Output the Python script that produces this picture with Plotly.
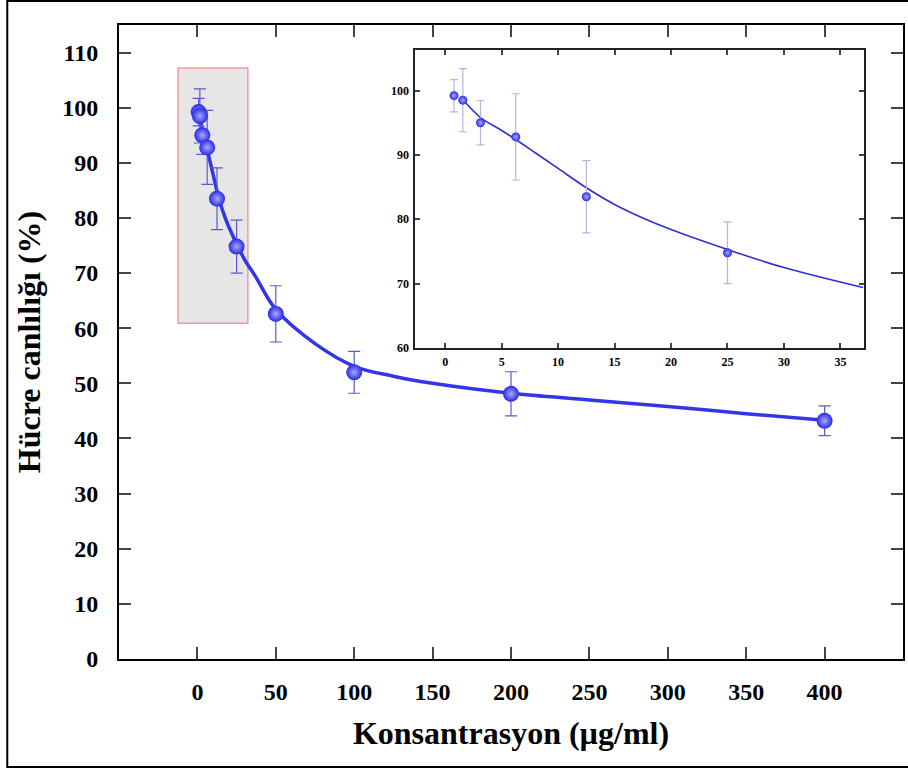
import plotly.graph_objects as go

# Data
conc = [0.78, 1.56, 3.125, 6.25, 12.5, 25, 50, 100, 200, 400]
viability = [99.2, 98.5, 95.0, 92.8, 83.5, 74.8, 62.6, 52.0, 48.1, 43.2]
viability_err = [2.5, 4.9, 3.45, 6.7, 5.6, 4.8, 5.1, 3.8, 4.0, 2.7]

# Fitted curve
fit_x = [1.56, 3.125, 5, 6.25, 8, 10, 12.5, 15, 17.5, 20, 25, 30, 37, 50, 75, 100, 125, 150, 200, 250, 300, 350, 400]
fit_y = [98.6, 95.8, 93.8, 92.4, 90.3, 87.9, 84.9, 82.3, 80.2, 78.4, 75.3, 72.5, 69.4, 63.4, 57.2, 53.1, 51.3, 50.0, 48.2, 47.0, 45.8, 44.5, 43.3]

# Inset subset (first six concentrations)
inset_x = conc[:6]
inset_y = viability[:6]
inset_err = viability_err[:6]
inset_fit_x = fit_x[:13]
inset_fit_y = fit_y[:13]

main_xticks = [0, 50, 100, 150, 200, 250, 300, 350, 400]
main_yticks = [0, 10, 20, 30, 40, 50, 60, 70, 80, 90, 100, 110]
inset_xticks = [0, 5, 10, 15, 20, 25, 30, 35]
inset_yticks = [60, 70, 80, 90, 100]

FONT = "Liberation Serif"
BLUE = "#2a2ae6"

fig = go.Figure()

# main fit curve
fig.add_trace(go.Scatter(x=fit_x, y=fit_y, mode="lines", line=dict(color="#3434e8", width=3.5, shape="spline"),
                         xaxis="x", yaxis="y", hoverinfo="skip", showlegend=False))
# main points
fig.add_trace(go.Scatter(x=conc, y=viability, mode="markers",
                         marker=dict(size=16, color=BLUE, line=dict(width=0),
                                     gradient=dict(type="radial", color="#a8a8ff")),
                         error_y=dict(type="data", array=viability_err, color="#5a5ad0", thickness=1.2, width=6),
                         xaxis="x", yaxis="y", showlegend=False))

# inset fit curve
fig.add_trace(go.Scatter(x=inset_fit_x, y=inset_fit_y, mode="lines", line=dict(color="#3030d8", width=1.6, shape="spline"),
                         xaxis="x2", yaxis="y2", hoverinfo="skip", showlegend=False))
# inset points
fig.add_trace(go.Scatter(x=inset_x, y=inset_y, mode="markers",
                         marker=dict(size=9, color=BLUE, line=dict(width=0),
                                     gradient=dict(type="radial", color="#a8a8ff")),
                         error_y=dict(type="data", array=inset_err, color="#b4b4e0", thickness=1.2, width=4),
                         xaxis="x2", yaxis="y2", showlegend=False))

fig.update_layout(
    width=908, height=769,
    margin=dict(l=119, r=3, t=25, b=110),
    paper_bgcolor="white", plot_bgcolor="white",
    font=dict(family=FONT, color="black"),
    xaxis=dict(range=[-50, 450], tickvals=main_xticks, ticks="inside", ticklen=12, tickwidth=2,
               showline=True, linewidth=2, linecolor="black", mirror="ticks", showgrid=False, zeroline=False,
               tickfont=dict(family=FONT, size=24, color="black", weight="bold"), ticklabelstandoff=10,
               title=dict(text="Konsantrasyon (µg/ml)", font=dict(family=FONT, size=32, color="black", weight="bold"),
                          standoff=18),
               domain=[0, 1]),
    yaxis=dict(range=[0, 115], tickvals=main_yticks, ticks="inside", ticklen=12, tickwidth=2,
               showline=True, linewidth=2, linecolor="black", mirror="ticks", showgrid=False, zeroline=False,
               tickfont=dict(family=FONT, size=24, color="black", weight="bold"), ticklabelstandoff=14,
               title=dict(text="Hücre canlılığı (%)", font=dict(family=FONT, size=32, color="black", weight="bold"),
                          standoff=12),
               domain=[0, 1]),
    xaxis2=dict(range=[-2.65, 37.1], tickvals=inset_xticks, ticks="inside", ticklen=5, tickwidth=1.5,
                showline=True, linewidth=1.5, linecolor="#222222", mirror="ticks", showgrid=False, zeroline=False,
                tickfont=dict(family=FONT, size=12, color="black", weight="bold"), ticklabelstandoff=2,
                domain=[0.3779, 0.9504], anchor="y2"),
    yaxis2=dict(range=[60, 106.3], tickvals=inset_yticks, ticks="inside", ticklen=5, tickwidth=1.5,
                showline=True, linewidth=1.5, linecolor="#222222", mirror="ticks", showgrid=False, zeroline=False,
                tickfont=dict(family=FONT, size=12, color="black", weight="bold"), ticklabelstandoff=2,
                domain=[0.4905, 0.9606], anchor="x2"),
    shapes=[
        dict(type="rect", xref="x", yref="y", x0=-12.3, x1=32.2, y0=60.9, y1=107.2,
             fillcolor="#e6e6e6", line=dict(color="#f29a9a", width=1.5), layer="below"),
        dict(type="rect", xref="paper", yref="paper", x0=-0.1425, x1=1.02, y0=-0.1703, y1=1.0379,
             fillcolor="rgba(0,0,0,0)", line=dict(color="black", width=2), layer="above"),
    ],
)

fig.write_html("out.html", config={"displayModeBar": False},
               post_script="document.body.style.margin='0';document.body.style.overflow='hidden';")
